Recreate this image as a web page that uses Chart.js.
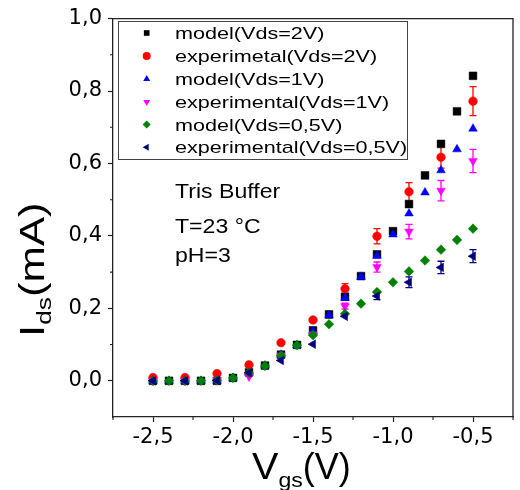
<!DOCTYPE html>
<html>
<head>
<meta charset="utf-8">
<style>
  html, body { margin: 0; padding: 0; background: #ffffff; }
  #wrap { width: 520px; height: 490px; }
</style>
</head>
<body>
<div id="wrap"><canvas id="chart" width="520" height="490"></canvas></div>
<script src="https://cdn.jsdelivr.net/npm/chart.js"></script>
<script>
// Datos: Ids (mA) frente a Vgs (V)
const vgsModel = [-2.5, -2.4, -2.3, -2.2, -2.1, -2.0, -1.9, -1.8, -1.7, -1.6, -1.5,
                  -1.4, -1.3, -1.2, -1.1, -1.0, -0.9, -0.8, -0.7, -0.6, -0.5];
const vgsExp = [-2.5, -2.3, -2.1, -1.9, -1.7, -1.5, -1.3, -1.1, -0.9, -0.7, -0.5];

const modelVds2 = [0, 0, 0, 0, 0, 0.008, 0.023, 0.042, 0.072, 0.099, 0.139,
                   0.183, 0.232, 0.289, 0.349, 0.413, 0.488, 0.567, 0.654, 0.744, 0.842];
const expVds2 = [0.009, 0.009, 0.020, 0.044, 0.105, 0.168, 0.254, 0.399, 0.522, 0.617, 0.772];
const expVds2Err = [0, 0, 0, 0, 0, 0, 0.014, 0.021, 0.025, 0.030, 0.040];

const modelVds1 = [0, 0, 0, 0, 0, 0.008, 0.022, 0.042, 0.072, 0.098, 0.137,
                   0.181, 0.229, 0.287, 0.345, 0.404, 0.462, 0.520, 0.581, 0.639, 0.696];
const expVds1 = [0, 0, 0.002, 0.012, 0.070, 0.128, 0.206, 0.314, 0.412, 0.525, 0.607];
const expVds1Err = [0, 0, 0, 0, 0, 0, 0.008, 0.014, 0.020, 0.028, 0.032];

const modelVds05 = [0, 0, 0, 0, 0.001, 0.008, 0.022, 0.041, 0.070, 0.098, 0.126,
                    0.156, 0.185, 0.213, 0.245, 0.272, 0.302, 0.332, 0.362, 0.389, 0.420];
const expVds05 = [0, 0, 0.001, 0.022, 0.056, 0.101, 0.178, 0.234, 0.272, 0.313, 0.344];
const expVds05Err = [0, 0, 0, 0, 0, 0, 0, 0.010, 0.015, 0.017, 0.018];

const seriesLabels = ["model(Vds=2V)", "experimetal(Vds=2V)", "model(Vds=1V)",
                      "experimental(Vds=1V)", "model(Vds=0,5V)", "experimental(Vds=0,5V)"];
const xTickValues = [-2.5, -2.0, -1.5, -1.0, -0.5];
const yTickValues = [0, 0.2, 0.4, 0.6, 0.8, 1.0];
const xMinorTicks = [-2.75, -2.25, -1.75, -1.25, -0.75, -0.25];
const yMinorTicks = [0.1, 0.3, 0.5, 0.7, 0.9];
const infoLines = ["Tris Buffer", "T=23 °C", "pH=3"];

const FONT = "'Liberation Sans', Arial, sans-serif";

// Une x e y en puntos {x, y}
function makePoints(xs, ys) {
    return xs.map((x, i) => ({ x: x, y: ys[i] }));
}

// Estilo de cada serie (marcador, color)
const styles = [
    { color: "#000000", shape: "rect", radius: 5.5, rotation: 0 },
    { color: "#ff0000", shape: "circle", radius: 4.3, rotation: 0 },
    { color: "#0000ff", shape: "triangle", radius: 5, rotation: 0 },
    { color: "#ff00ff", shape: "triangle", radius: 5, rotation: 180 },
    { color: "#008000", shape: "rectRot", radius: 4.8, rotation: 0 },
    { color: "#000080", shape: "triangle", radius: 5, rotation: -90 }
];

const seriesData = [
    makePoints(vgsModel, modelVds2),
    makePoints(vgsExp, expVds2),
    makePoints(vgsModel, modelVds1),
    makePoints(vgsExp, expVds1),
    makePoints(vgsModel, modelVds05),
    makePoints(vgsExp, expVds05)
];
const seriesErrors = [null, expVds2Err, null, expVds1Err, null, expVds05Err];

const datasets = seriesData.map((data, i) => ({
    label: seriesLabels[i],
    data: data,
    errors: seriesErrors[i],
    showLine: false,
    pointStyle: styles[i].shape,
    pointRadius: styles[i].radius,
    pointRotation: styles[i].rotation,
    backgroundColor: styles[i].color,
    borderColor: styles[i].color,
    pointBorderWidth: 0.5,
    order: seriesData.length - i // las últimas series quedan encima
}));

// Texto ensanchado horizontalmente (la figura usa una tipografía ancha)
function drawWide(ctx, text, x, y, size, stretch) {
    ctx.save();
    ctx.translate(x, y);
    ctx.scale(stretch, 1);
    ctx.font = size + "px " + FONT;
    ctx.fillText(text, 0, 0);
    const w = ctx.measureText(text).width * stretch;
    ctx.restore();
    return w;
}

function drawMarker(ctx, st, x, y, r) {
    ctx.save();
    ctx.translate(x, y);
    ctx.rotate(st.rotation * Math.PI / 180);
    ctx.fillStyle = st.color;
    ctx.beginPath();
    if (st.shape === "rect") {
        const s = r * Math.SQRT1_2;
        ctx.rect(-s, -s, 2 * s, 2 * s);
    } else if (st.shape === "circle") {
        ctx.arc(0, 0, r, 0, Math.PI * 2);
    } else if (st.shape === "triangle") {
        ctx.moveTo(0, -r);
        ctx.lineTo(r * 0.866, r * 0.5);
        ctx.lineTo(-r * 0.866, r * 0.5);
        ctx.closePath();
    } else {
        ctx.moveTo(0, -r);
        ctx.lineTo(r, 0);
        ctx.lineTo(0, r);
        ctx.lineTo(-r, 0);
        ctx.closePath();
    }
    ctx.fill();
    ctx.restore();
}

// Barras de error, marco, ticks menores, títulos, leyenda y texto
const decorPlugin = {
    id: "decor",
    beforeDatasetsDraw(chart) {
        const ctx = chart.ctx;
        const xs = chart.scales.x, ys = chart.scales.y;
        chart.data.datasets.forEach((ds) => {
            if (!ds.errors) return;
            ctx.save();
            ctx.strokeStyle = ds.borderColor;
            ctx.lineWidth = 1.3;
            ds.data.forEach((p, j) => {
                const e = ds.errors[j];
                if (!e) return;
                const px = xs.getPixelForValue(p.x);
                const top = ys.getPixelForValue(p.y + e);
                const bot = ys.getPixelForValue(p.y - e);
                ctx.beginPath();
                ctx.moveTo(px, top); ctx.lineTo(px, bot);
                ctx.moveTo(px - 3.5, top); ctx.lineTo(px + 3.5, top);
                ctx.moveTo(px - 3.5, bot); ctx.lineTo(px + 3.5, bot);
                ctx.stroke();
            });
            ctx.restore();
        });
    },
    afterDraw(chart) {
        const ctx = chart.ctx;
        const a = chart.chartArea;
        const xs = chart.scales.x, ys = chart.scales.y;

        // marco superior y derecho
        ctx.save();
        ctx.strokeStyle = "#222";
        ctx.lineWidth = 1.3;
        ctx.beginPath();
        ctx.moveTo(a.left, a.top); ctx.lineTo(a.right, a.top); ctx.lineTo(a.right, a.bottom);
        ctx.stroke();

        // ticks menores
        ctx.lineWidth = 1.1;
        ctx.beginPath();
        xMinorTicks.forEach((v) => {
            const px = xs.getPixelForValue(v);
            ctx.moveTo(px, a.bottom); ctx.lineTo(px, a.bottom + 3);
        });
        yMinorTicks.forEach((v) => {
            const py = ys.getPixelForValue(v);
            ctx.moveTo(a.left, py); ctx.lineTo(a.left - 3, py);
        });
        ctx.stroke();
        ctx.restore();

        ctx.save();
        ctx.fillStyle = "#000";
        ctx.textBaseline = "alphabetic";

        // título eje X: Vgs(V)
        let w = drawWide(ctx, "V", 252, 479, 36, 1.1);
        w += drawWide(ctx, "gs", 252 + w, 487, 21, 1.1);
        drawWide(ctx, "(V)", 252 + w, 479, 36, 1.0);

        // título eje Y: Ids(mA)
        ctx.save();
        ctx.translate(44, 337);
        ctx.rotate(-Math.PI / 2);
        let h = drawWide(ctx, "I", 0, 0, 35, 1.25);
        h += drawWide(ctx, "ds", h, 7, 21, 1.25);
        drawWide(ctx, "(mA)", h, 0, 35, 1.25);
        ctx.restore();

        // leyenda
        ctx.strokeStyle = "#444";
        ctx.lineWidth = 1;
        ctx.strokeRect(118.5, 21.5, 289, 138);
        const rowY = [33, 56, 79, 102, 124.5, 147.3];
        seriesLabels.forEach((lab, i) => {
            drawMarker(ctx, styles[i], 146.7, rowY[i], 4);
            ctx.fillStyle = "#000";
            drawWide(ctx, lab, 175, rowY[i] + 6, 17, 1.27);
        });

        // condiciones de medida
        const infoY = [198, 233, 262];
        infoLines.forEach((t, i) => drawWide(ctx, t, 175, infoY[i], 21, 1.1));
        ctx.restore();
    }
};

const fmt = (v) => v.toFixed(1).replace(".", ",");

new Chart(document.getElementById("chart").getContext("2d"), {
    type: "scatter",
    data: { datasets: datasets },
    options: {
        responsive: false,
        animation: false,
        layout: { padding: { top: 16, right: 7, left: 0, bottom: 0 } },
        plugins: {
            legend: { display: false },
            tooltip: { enabled: false }
        },
        scales: {
            x: {
                type: "linear",
                min: -2.75,
                max: -0.25,
                afterBuildTicks: (scale) => { scale.ticks = xTickValues.map((v) => ({ value: v })); },
                afterFit: (scale) => { scale.height = 73; },
                border: { color: "#222", width: 1.3 },
                grid: { drawOnChartArea: false, tickLength: 5, tickColor: "#222", tickWidth: 1.2 },
                ticks: {
                    padding: 3,
                    color: "#000",
                    font: { family: "'DejaVu Sans'", size: 21 },
                    callback: fmt
                }
            },
            y: {
                type: "linear",
                min: -0.1,
                max: 1.0,
                afterBuildTicks: (scale) => { scale.ticks = yTickValues.map((v) => ({ value: v })); },
                afterFit: (scale) => { scale.width = 113; },
                border: { color: "#222", width: 1.3 },
                grid: { drawOnChartArea: false, tickLength: 5, tickColor: "#222", tickWidth: 1.2 },
                ticks: {
                    padding: 6,
                    color: "#000",
                    font: { family: "'DejaVu Sans'", size: 21 },
                    callback: fmt
                }
            }
        }
    },
    plugins: [decorPlugin]
});
</script>
</body>
</html>
